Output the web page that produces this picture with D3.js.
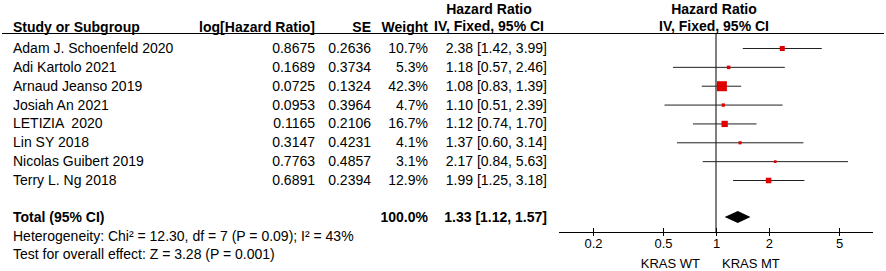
<!DOCTYPE html>
<html>
<head>
<meta charset="utf-8">
<script src="https://cdn.jsdelivr.net/npm/d3@7"></script>
<style>
  body { margin: 0; background: #fff; }
  svg { font-family: "Liberation Sans", Arial, sans-serif; font-size: 14px; }
  text { white-space: pre; }
  .bold { font-weight: bold; }
</style>
</head>
<body>
<div id="chart"></div>
<script>
var studies = ["Adam J. Schoenfeld 2020", "Adi Kartolo 2021", "Arnaud Jeanso 2019", "Josiah An 2021",
               "LETIZIA  2020", "Lin SY 2018", "Nicolas Guibert 2019", "Terry L. Ng 2018"];
var logHR = ["0.8675", "0.1689", "0.0725", "0.0953", "0.1165", "0.3147", "0.7763", "0.6891"];
var seVals = ["0.2636", "0.3734", "0.1324", "0.3964", "0.2106", "0.4231", "0.4857", "0.2394"];
var weights = [10.7, 5.3, 42.3, 4.7, 16.7, 4.1, 3.1, 12.9];
var hr = [2.38, 1.18, 1.08, 1.10, 1.12, 1.37, 2.17, 1.99];
var lower = [1.42, 0.57, 0.83, 0.51, 0.74, 0.60, 0.84, 1.25];
var upper = [3.99, 2.46, 1.39, 2.39, 1.70, 3.14, 5.63, 3.18];
var total = { hr: 1.33, lo: 1.12, hi: 1.57, weight: 100.0 };
var tickVals = [0.2, 0.5, 1, 2, 5];
var heterogeneity = "Heterogeneity: Chi\u00b2 = 12.30, df = 7 (P = 0.09); I\u00b2 = 43%";
var overallTest = "Test for overall effect: Z = 3.28 (P = 0.001)";

var w = 886, h = 271;

var svg = d3.select("#chart").append("svg")
  .attr("width", w)
  .attr("height", h);

var f2 = d3.format(".2f");

var yScale = d3.scalePoint()
  .domain(studies)
  .range([48, 180]);
var yTotal = 217;

var xScale = d3.scaleLog()
  .domain([0.2, 5])
  .range([593, 839]);

var sizeScale = d3.scaleSqrt()
  .domain([0, 42.3])
  .range([0, 10]);

// headers
svg.append("text").attr("class", "bold").attr("x", 13).attr("y", 32).text("Study or Subgroup");
svg.append("text").attr("class", "bold").attr("x", 315).attr("y", 32).attr("text-anchor", "end").text("log[Hazard Ratio]");
svg.append("text").attr("class", "bold").attr("x", 371).attr("y", 32).attr("text-anchor", "end").text("SE");
svg.append("text").attr("class", "bold").attr("x", 428).attr("y", 32).attr("text-anchor", "end").text("Weight");
svg.append("text").attr("class", "bold").attr("x", 489).attr("y", 14).attr("text-anchor", "middle").text("Hazard Ratio");
svg.append("text").attr("class", "bold").attr("x", 489).attr("y", 31).attr("text-anchor", "middle").text("IV, Fixed, 95% CI");
svg.append("text").attr("class", "bold").attr("x", 714).attr("y", 14).attr("text-anchor", "middle").text("Hazard Ratio");
svg.append("text").attr("class", "bold").attr("x", 714).attr("y", 31).attr("text-anchor", "middle").text("IV, Fixed, 95% CI");

svg.append("line").attr("x1", 2).attr("x2", 884).attr("y1", 33.5).attr("y2", 33.5)
  .attr("stroke", "#000").attr("stroke-width", 1);

// study rows
var rows = svg.selectAll(".row")
  .data(studies)
  .enter()
  .append("g")
  .attr("class", "row")
  .attr("transform", function(d) { return "translate(0," + (yScale(d) + 5) + ")"; });

rows.append("text").attr("x", 13).text(function(d) { return d; });
rows.append("text").attr("x", 315).attr("text-anchor", "end").text(function(d, i) { return logHR[i]; });
rows.append("text").attr("x", 371).attr("text-anchor", "end").text(function(d, i) { return seVals[i]; });
rows.append("text").attr("x", 428).attr("text-anchor", "end").text(function(d, i) { return weights[i].toFixed(1) + "%"; });
rows.append("text").attr("x", 547).attr("text-anchor", "end")
  .text(function(d, i) { return f2(hr[i]) + " [" + f2(lower[i]) + ", " + f2(upper[i]) + "]"; });

// total row
svg.append("text").attr("class", "bold").attr("x", 13).attr("y", yTotal + 5).text("Total (95% CI)");
svg.append("text").attr("class", "bold").attr("x", 428).attr("y", yTotal + 5).attr("text-anchor", "end")
  .text(total.weight.toFixed(1) + "%");
svg.append("text").attr("class", "bold").attr("x", 547).attr("y", yTotal + 5).attr("text-anchor", "end")
  .text(f2(total.hr) + " [" + f2(total.lo) + ", " + f2(total.hi) + "]");

svg.append("text").attr("x", 13).attr("y", 241).text(heterogeneity);
svg.append("text").attr("x", 13).attr("y", 259).text(overallTest);

// line of no effect
svg.append("line")
  .attr("x1", xScale(1)).attr("x2", xScale(1))
  .attr("y1", 33.5).attr("y2", 232)
  .attr("stroke", "#000").attr("stroke-width", 1);

// CIs
svg.selectAll(".ci")
  .data(studies)
  .enter()
  .append("line")
  .attr("class", "ci")
  .attr("x1", function(d, i) { return xScale(lower[i]); })
  .attr("x2", function(d, i) { return xScale(upper[i]); })
  .attr("y1", function(d) { return yScale(d) + 0.5; })
  .attr("y2", function(d) { return yScale(d) + 0.5; })
  .attr("stroke", "#222")
  .attr("stroke-width", 1);

svg.selectAll(".sq")
  .data(studies)
  .enter()
  .append("rect")
  .attr("class", "sq")
  .attr("x", function(d, i) { return xScale(hr[i]) - sizeScale(weights[i]) / 2; })
  .attr("y", function(d, i) { return yScale(d) + 0.5 - sizeScale(weights[i]) / 2; })
  .attr("width", function(d, i) { return sizeScale(weights[i]); })
  .attr("height", function(d, i) { return sizeScale(weights[i]); })
  .attr("fill", "#e00000");

// diamond
svg.append("path")
  .attr("d", "M" + xScale(total.lo) + "," + yTotal +
             "L" + xScale(total.hr) + "," + (yTotal - 6) +
             "L" + xScale(total.hi) + "," + yTotal +
             "L" + xScale(total.hr) + "," + (yTotal + 6) + "Z")
  .attr("fill", "#000");

// axis
var axisScale = xScale.copy().domain([xScale.invert(559), xScale.invert(873)]).range([559, 873]);
var xAxis = d3.axisBottom()
  .scale(axisScale)
  .tickValues(tickVals)
  .tickFormat(function(d) { return d; })
  .tickSizeOuter(0)
  .tickSize(4);

var gAxis = svg.append("g")
  .attr("transform", "translate(0,232)")
  .call(xAxis);
gAxis.select(".domain").attr("d", "M559,0.5H873").attr("stroke", "#000");
gAxis.selectAll(".tick line").attr("y1", -4).attr("y2", 4).attr("stroke", "#000");
gAxis.selectAll(".tick text")
  .attr("y", 7)
  .style("font-family", "\"Liberation Sans\", Arial, sans-serif")
  .style("font-size", "13px")
  .attr("fill", "#000");

svg.append("text").attr("x", 700).attr("y", 268).attr("text-anchor", "end").style("font-size", "13px").text("KRAS WT");
svg.append("text").attr("x", 722).attr("y", 268).style("font-size", "13px").text("KRAS MT");
</script>
</body>
</html>
